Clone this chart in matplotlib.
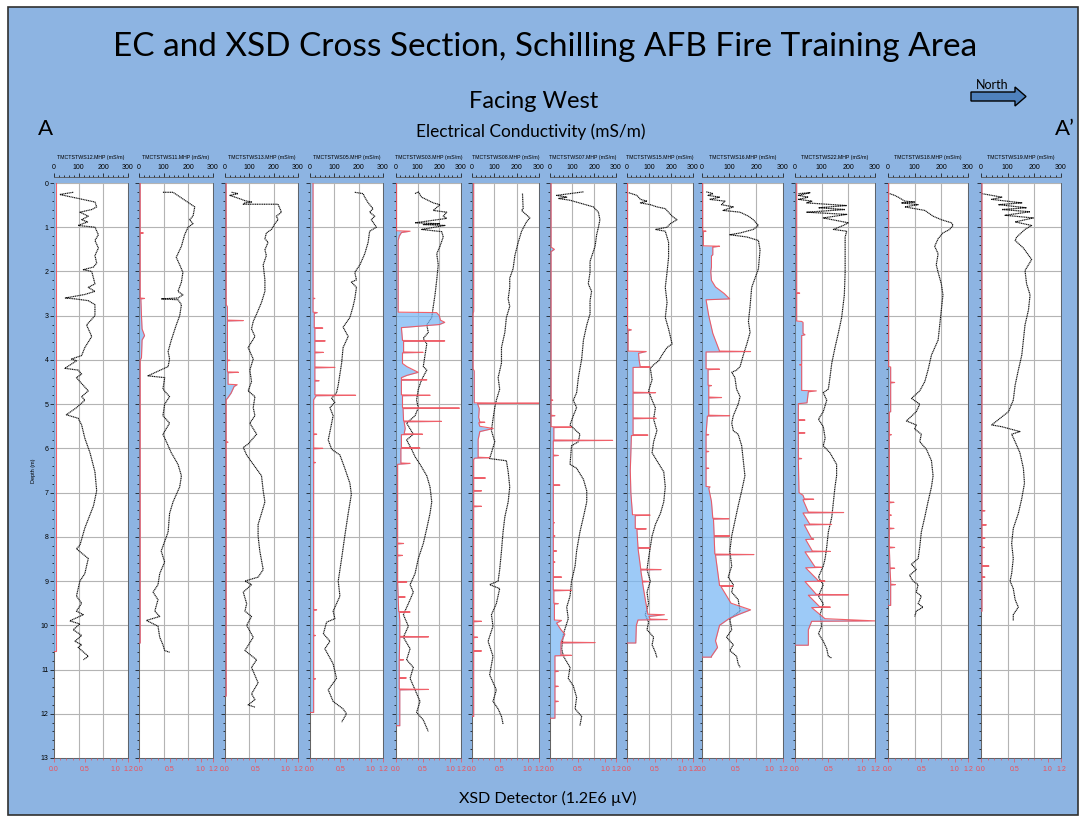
import matplotlib.pyplot as plt
from matplotlib.patches import Rectangle, Polygon
from matplotlib.ticker import MultipleLocator, FixedLocator

plt.rcParams['font.family'] = ['Liberation Sans', 'DejaVu Sans']

# ---------------- data ----------------
wells = ['TMCTSTWS12', 'TMCTSTWS11', 'TMCTSTWS13', 'TMCTSTWS05', 'TMCTSTWS03', 'TMCTSTWS08',
         'TMCTSTWS07', 'TMCTSTWS15', 'TMCTSTWS16', 'TMCTSTWS22', 'TMCTSTWS18', 'TMCTSTWS19']

# EC profiles: (depth m, conductivity mS/m)
ec_ws12 = [(0.21, 78), (0.26, 23), (0.43, 166), (0.54, 173), (0.6, 153), (0.66, 105), (0.75, 139), (0.83, 112),
           (0.88, 136), (0.96, 98), (1.0, 166), (1.17, 180), (1.3, 166), (1.47, 180), (1.64, 166), (1.81, 173),
           (1.9, 160), (1.96, 119), (2.0, 153), (2.28, 166), (2.36, 139), (2.45, 166), (2.52, 125), (2.6, 46),
           (2.62, 85), (2.66, 139), (2.75, 166), (3.0, 166), (3.21, 132), (3.47, 153), (3.72, 125), (3.9, 112),
           (3.98, 71), (4.02, 91), (4.19, 44), (4.23, 98), (4.32, 112), (4.4, 91), (4.49, 105), (4.7, 139),
           (4.83, 112), (4.91, 125), (5.08, 91), (5.24, 50), (5.32, 98), (5.47, 112), (5.77, 125), (6.1, 146),
           (6.53, 166), (6.96, 173), (7.3, 160), (7.8, 125), (8.19, 105), (8.27, 91), (8.49, 139), (8.83, 125),
           (9.0, 105), (9.34, 91), (9.5, 112), (9.68, 91), (9.76, 119), (9.9, 64), (9.97, 105), (10.1, 78),
           (10.23, 112), (10.36, 85), (10.44, 112), (10.5, 98), (10.7, 139), (10.78, 119)]
ec_ws11 = [(0.21, 97), (0.21, 138), (0.54, 226), (0.75, 219), (0.83, 205), (0.92, 219), (1.0, 199), (1.17, 185),
           (1.43, 172), (1.68, 151), (1.85, 165), (2.02, 178), (2.24, 172), (2.45, 158), (2.53, 178), (2.6, 158),
           (2.62, 90), (2.64, 158), (2.75, 172), (3.0, 165), (3.21, 151), (3.55, 131), (3.81, 118), (3.98, 124),
           (4.15, 118), (4.36, 36), (4.4, 104), (4.66, 97), (4.83, 124), (5.0, 104), (5.26, 97), (5.43, 124),
           (5.68, 97), (5.85, 111), (6.1, 131), (6.36, 158), (6.62, 172), (6.87, 165), (7.21, 138), (7.47, 124),
           (7.89, 118), (8.32, 90), (8.57, 104), (8.83, 84), (9.08, 77), (9.25, 57), (9.42, 77), (9.68, 64),
           (9.8, 84), (9.89, 30), (10.02, 77), (10.27, 84), (10.44, 97), (10.57, 104), (10.61, 124)]
ec_ws13 = [(0.21, 27), (0.24, 54), (0.28, 20), (0.37, 68), (0.4, 82), (0.43, 109), (0.45, 82), (0.48, 75),
           (0.48, 218), (0.66, 232), (0.75, 211), (0.83, 218), (0.92, 205), (1.05, 191), (1.13, 170), (1.26, 164),
           (1.34, 177), (1.51, 164), (1.64, 170), (1.85, 157), (2.19, 164), (2.45, 164), (2.7, 150), (2.96, 130),
           (3.13, 116), (3.3, 109), (3.47, 123), (3.72, 95), (3.98, 116), (4.23, 102), (4.49, 109), (4.7, 95),
           (4.83, 123), (5.08, 116), (5.26, 123), (5.43, 102), (5.68, 130), (5.9, 95), (5.98, 75), (6.15, 89),
           (6.36, 116), (6.62, 150), (6.96, 157), (7.21, 164), (7.47, 150), (7.72, 136), (7.98, 136), (8.32, 143),
           (8.74, 157), (8.91, 136), (9.0, 82), (9.08, 109), (9.25, 75), (9.51, 89), (9.68, 82), (9.8, 109),
           (10.0, 89), (10.27, 116), (10.57, 82), (10.78, 130), (10.95, 109), (11.3, 136), (11.55, 109),
           (11.68, 123), (11.8, 95), (11.85, 123)]
ec_ws05 = [(0.21, 184), (0.24, 218), (0.32, 225), (0.45, 239), (0.58, 259), (0.66, 245), (0.75, 266),
           (0.83, 252), (1.0, 273), (1.09, 245), (1.34, 239), (1.6, 225), (1.85, 205), (2.02, 184), (2.19, 191),
           (2.24, 170), (2.36, 191), (2.62, 184), (2.79, 177), (3.04, 164), (3.26, 136), (3.47, 157), (3.72, 136),
           (4.07, 130), (4.32, 123), (4.57, 116), (4.74, 109), (4.87, 89), (4.96, 102), (5.08, 82), (5.26, 95),
           (5.43, 89), (5.81, 75), (6.02, 89), (6.15, 123), (6.45, 143), (6.79, 164), (7.04, 170), (7.47, 157),
           (7.98, 143), (8.49, 130), (9.0, 116), (9.34, 123), (9.68, 95), (9.85, 102), (9.93, 68), (10.19, 55),
           (10.36, 82), (10.53, 61), (10.87, 95), (11.2, 109), (11.46, 75), (11.72, 95), (11.89, 136), (12.0, 150),
           (12.19, 130)]
ec_ws03 = [(0.24, 88), (0.2, 103), (0.32, 118), (0.45, 172), (0.49, 203), (0.62, 172), (0.66, 234), (0.75, 218),
           (0.8, 234), (0.9, 88), (0.92, 203), (0.94, 126), (0.96, 226), (1.05, 118), (1.1, 211), (1.22, 218),
           (1.43, 203), (1.6, 188), (1.85, 195), (2.19, 188), (2.53, 180), (2.79, 172), (3.04, 165), (3.21, 142),
           (3.38, 149), (3.51, 126), (3.64, 142), (3.89, 134), (4.15, 126), (4.23, 142), (4.45, 118), (4.66, 103),
           (4.91, 95), (5.08, 103), (5.26, 88), (5.43, 49), (5.68, 80), (5.81, 49), (6.02, 72), (6.19, 88),
           (6.36, 111), (6.62, 142), (6.87, 157), (7.21, 165), (7.47, 157), (7.81, 142), (8.15, 126), (8.49, 103),
           (8.83, 88), (9.08, 65), (9.25, 80), (9.51, 57), (9.76, 34), (10.02, 57), (10.27, 34), (10.53, 65),
           (10.78, 49), (10.95, 80), (11.2, 65), (11.46, 88), (11.72, 111), (11.97, 95), (12.14, 126), (12.4, 149)]
ec_ws08 = [(0.24, 226), (0.58, 229), (0.62, 222), (0.79, 259), (0.88, 244), (1.09, 222), (1.34, 207), (1.64, 192),
           (1.94, 184), (2.15, 169), (2.36, 169), (2.62, 162), (2.79, 169), (3.04, 154), (3.38, 147), (3.72, 132),
           (4.07, 132), (4.4, 117), (4.66, 124), (4.91, 109), (5.08, 102), (5.34, 94), (5.6, 87), (5.85, 102),
           (6.1, 87), (6.23, 79), (6.28, 154), (6.53, 162), (6.87, 169), (7.21, 162), (7.55, 147), (7.89, 139),
           (8.32, 132), (8.74, 124), (9.0, 117), (9.08, 79), (9.17, 124), (9.51, 109), (9.76, 87), (10.02, 94),
           (10.36, 72), (10.7, 94), (11.12, 79), (11.46, 109), (11.72, 94), (11.89, 117), (12.06, 132),
           (12.23, 139)]
ec_ws07 = [(0.2, 152), (0.28, 30), (0.32, 76), (0.35, 38), (0.39, 91), (0.54, 197), (0.66, 220), (0.83, 227),
           (1.0, 220), (1.17, 212), (1.43, 205), (1.77, 182), (2.02, 182), (2.28, 174), (2.45, 189), (2.66, 182),
           (2.96, 182), (3.21, 167), (3.55, 152), (3.98, 144), (4.4, 129), (4.74, 121), (4.91, 106), (5.08, 121),
           (5.26, 106), (5.47, 91), (5.68, 136), (5.85, 129), (5.94, 98), (6.36, 91), (6.45, 121), (6.7, 152),
           (6.96, 167), (7.21, 167), (7.55, 152), (7.89, 136), (8.32, 121), (8.66, 114), (9.0, 98), (9.34, 91),
           (9.59, 76), (9.85, 83), (10.19, 61), (10.53, 53), (10.7, 61), (10.95, 91), (11.2, 83), (11.37, 106),
           (11.63, 121), (11.89, 114), (12.06, 144), (12.27, 136)]
ec_ws15 = [(0.22, 8), (0.28, 45), (0.37, 61), (0.41, 91), (0.45, 61), (0.49, 106), (0.54, 136), (0.58, 174),
           (0.75, 205), (0.83, 227), (0.92, 197), (1.0, 182), (1.05, 129), (1.09, 174), (1.34, 189), (1.68, 189),
           (2.02, 182), (2.36, 174), (2.7, 182), (3.04, 174), (3.3, 189), (3.64, 205), (3.72, 182), (3.89, 159),
           (4.02, 144), (4.11, 121), (4.19, 106), (4.45, 114), (4.7, 98), (4.91, 114), (5.08, 129), (5.34, 121),
           (5.6, 136), (5.85, 121), (6.1, 114), (6.28, 136), (6.53, 167), (6.87, 174), (7.21, 167), (7.47, 152),
           (7.72, 129), (7.98, 114), (8.23, 106), (8.49, 98), (8.74, 91), (9.0, 106), (9.25, 91), (9.51, 98),
           (9.76, 83), (9.93, 98), (10.1, 91), (10.27, 121), (10.44, 114), (10.61, 129), (10.73, 136)]
ec_ws16 = [(0.2, 16), (0.24, 41), (0.28, 22), (0.32, 66), (0.37, 28), (0.41, 85), (0.49, 72), (0.54, 116),
           (0.62, 78), (0.66, 141), (0.75, 172), (0.83, 190), (0.96, 209), (1.05, 190), (1.13, 141), (1.17, 103),
           (1.22, 166), (1.3, 209), (1.51, 215), (1.94, 209), (2.36, 184), (2.79, 178), (3.13, 172), (3.38, 178),
           (3.64, 166), (3.89, 153), (4.15, 141), (4.23, 128), (4.28, 110), (4.4, 122), (4.66, 128), (4.83, 141),
           (5.0, 134), (5.26, 116), (5.43, 110), (5.6, 116), (5.68, 134), (5.94, 147), (6.28, 153), (6.62, 159),
           (6.96, 147), (7.3, 134), (7.64, 122), (7.98, 110), (8.32, 103), (8.66, 110), (8.91, 97), (9.08, 116),
           (9.25, 110), (9.42, 134), (9.68, 141), (9.85, 103), (10.1, 110), (10.27, 91), (10.44, 116),
           (10.57, 103), (10.7, 128), (10.87, 134), (10.95, 141)]
ec_ws22 = [(0.24, 13), (0.22, 56), (0.28, 13), (0.32, 50), (0.37, 13), (0.41, 63), (0.45, 44), (0.51, 194),
           (0.56, 88), (0.6, 188), (0.66, 44), (0.71, 194), (0.79, 106), (0.9, 200), (0.96, 181), (1.05, 144),
           (1.09, 194), (1.22, 188), (1.51, 188), (2.02, 188), (2.53, 185), (3.04, 175), (3.38, 163), (3.72, 150),
           (4.07, 138), (4.4, 131), (4.66, 125), (4.74, 106), (4.91, 119), (5.17, 106), (5.34, 88), (5.51, 106),
           (5.77, 113), (5.94, 106), (6.1, 131), (6.36, 156), (6.62, 156), (6.87, 150), (7.21, 144), (7.55, 138),
           (7.89, 125), (8.23, 119), (8.49, 113), (8.66, 106), (8.91, 88), (9.08, 106), (9.34, 88), (9.51, 106),
           (9.76, 94), (10.02, 100), (10.19, 88), (10.36, 106), (10.53, 119), (10.7, 125), (10.74, 138)]
ec_ws18 = [(0.24, 6), (0.28, 25), (0.32, 38), (0.41, 63), (0.43, 100), (0.45, 50), (0.49, 113), (0.54, 63),
           (0.62, 138), (0.75, 169), (0.83, 200), (0.9, 238), (0.96, 244), (1.05, 231), (1.13, 206), (1.26, 188),
           (1.43, 175), (1.6, 188), (1.85, 181), (2.02, 188), (2.28, 200), (2.53, 206), (2.87, 200), (3.21, 194),
           (3.55, 188), (3.89, 163), (4.23, 150), (4.49, 138), (4.7, 119), (4.87, 88), (5.0, 119), (5.17, 106),
           (5.38, 69), (5.47, 106), (5.56, 100), (5.68, 125), (5.85, 119), (6.02, 144), (6.28, 163), (6.62, 169),
           (6.87, 163), (7.21, 150), (7.55, 138), (7.89, 125), (8.23, 119), (8.49, 113), (8.62, 88), (8.74, 106),
           (8.87, 81), (9.0, 94), (9.08, 113), (9.25, 106), (9.34, 125), (9.51, 113), (9.59, 131), (9.68, 106),
           (9.8, 100)]
ec_ws19 = [(0.24, 3), (0.32, 78), (0.37, 40), (0.45, 153), (0.49, 65), (0.56, 171), (0.6, 78), (0.65, 184),
           (0.73, 90), (0.79, 196), (0.88, 128), (0.96, 190), (1.05, 165), (1.22, 134), (1.3, 128), (1.47, 159),
           (1.73, 190), (1.98, 165), (2.28, 171), (2.53, 184), (2.87, 178), (3.21, 165), (3.55, 159), (3.89, 153),
           (4.23, 140), (4.57, 128), (4.91, 121), (5.17, 103), (5.47, 40), (5.51, 78), (5.62, 146), (5.68, 115),
           (5.85, 128), (6.1, 146), (6.45, 159), (6.79, 163), (7.13, 153), (7.47, 140), (7.81, 121), (8.15, 115),
           (8.49, 121), (8.83, 115), (9.0, 109), (9.17, 121), (9.42, 128), (9.59, 140), (9.76, 121), (9.89, 121)]

# XSD profiles: (depth m, detector signal in 1.2E6 uV units)
xsd_ws12 = [(0, 0.03), (10.57, 0.03), (10.57, 0)]
xsd_ws11 = [(0, 0.02), (1.12, 0.02), (1.13, 0.07), (1.14, 0.02), (2.6, 0.02), (2.61, 0.09), (2.62, 0.03),
            (3.0, 0.04), (3.3, 0.05), (3.45, 0.09), (3.55, 0.05), (3.95, 0.04), (4.0, 0.02), (10.4, 0.02),
            (10.4, 0)]
xsd_ws13 = [(0, 0.02), (2.75, 0.02), (2.8, 0.04), (3.1, 0.04), (3.11, 0.3), (3.12, 0.04), (4.0, 0.04),
            (4.01, 0.08), (4.02, 0.04), (4.27, 0.04), (4.28, 0.22), (4.29, 0.05), (4.55, 0.05), (4.56, 0.2),
            (4.6, 0.15), (4.75, 0.1), (4.85, 0.05), (4.9, 0.02), (5.85, 0.02), (5.86, 0.05), (5.87, 0.02),
            (11.6, 0.02), (11.6, 0)]
xsd_ws05 = [(0, 0.05), (2.6, 0.05), (2.61, 0.08), (2.62, 0.05), (2.92, 0.05), (2.93, 0.12), (2.95, 0.07),
            (3.27, 0.07), (3.28, 0.21), (3.29, 0.08), (3.56, 0.08), (3.57, 0.25), (3.58, 0.08), (3.82, 0.08),
            (3.83, 0.22), (3.84, 0.08), (4.16, 0.08), (4.17, 0.41), (4.18, 0.08), (4.46, 0.08), (4.47, 0.15),
            (4.48, 0.08), (4.79, 0.08), (4.8, 0.75), (4.81, 0.1), (4.9, 0.06), (5.67, 0.06), (5.68, 0.11),
            (5.69, 0.06), (5.99, 0.06), (6.0, 0.21), (6.01, 0.06), (6.31, 0.06), (6.32, 0.09), (6.33, 0.06),
            (9.64, 0.06), (9.65, 0.11), (9.66, 0.06), (10.22, 0.06), (10.23, 0.09), (10.24, 0.06), (11.2, 0.06),
            (11.21, 0.09), (11.22, 0.06), (11.97, 0.06), (11.97, 0)]
xsd_ws03 = [(0, 0.01), (1.08, 0.01), (1.09, 0.26), (1.12, 0.1), (1.2, 0.06), (1.3, 0.04), (2.92, 0.04),
            (2.93, 0.75), (3.0, 0.8), (3.1, 0.82), (3.15, 0.9), (3.2, 0.8), (3.25, 0.3), (3.27, 0.1), (3.56, 0.12),
            (3.57, 0.9), (3.58, 0.14), (3.82, 0.14), (3.83, 0.5), (3.84, 0.12), (4.08, 0.12), (4.15, 0.2),
            (4.28, 0.41), (4.35, 0.2), (4.4, 0.1), (4.44, 0.1), (4.45, 0.57), (4.46, 0.1), (4.79, 0.1), (4.8, 0.63),
            (4.81, 0.12), (5.08, 0.12), (5.09, 1.17), (5.1, 0.13), (5.38, 0.14), (5.39, 0.84), (5.4, 0.15),
            (5.55, 0.17), (5.67, 0.15), (5.68, 0.49), (5.69, 0.1), (5.98, 0.1), (5.99, 0.44), (6.0, 0.09),
            (6.33, 0.09), (6.34, 0.26), (6.36, 0.03), (8.14, 0.03), (8.15, 0.14), (8.16, 0.03), (8.41, 0.03),
            (8.42, 0.12), (8.43, 0.03), (9.01, 0.03), (9.02, 0.2), (9.03, 0.03), (9.35, 0.04), (9.36, 0.17),
            (9.37, 0.04), (9.69, 0.05), (9.7, 0.26), (9.71, 0.06), (9.9, 0.07), (10.25, 0.07), (10.26, 0.6),
            (10.27, 0.07), (10.77, 0.06), (10.78, 0.14), (10.79, 0.06), (11.18, 0.06), (11.19, 0.19), (11.2, 0.06),
            (11.44, 0.06), (11.45, 0.6), (11.46, 0.07), (12.27, 0.07), (12.27, 0)]
xsd_ws08 = [(0, 0.03), (2.9, 0.03), (2.95, 0.02), (4.2, 0.02), (4.25, 0.04), (4.97, 0.04), (4.98, 1.2),
            (4.99, 0.1), (5.1, 0.13), (5.3, 0.12), (5.4, 0.14), (5.41, 0.23), (5.42, 0.12), (5.5, 0.14),
            (5.55, 0.38), (5.62, 0.14), (5.8, 0.11), (6.2, 0.11), (6.21, 0.31), (6.22, 0.05), (6.25, 0.03),
            (6.66, 0.03), (6.67, 0.24), (6.68, 0.03), (6.95, 0.03), (6.96, 0.17), (6.97, 0.03), (7.3, 0.03),
            (7.31, 0.17), (7.32, 0.03), (9.9, 0.03), (9.91, 0.17), (9.92, 0.03), (10.26, 0.03), (10.27, 0.1),
            (10.28, 0.03), (10.57, 0.03), (10.58, 0.17), (10.59, 0.03), (12.06, 0.03), (12.06, 0)]
xsd_ws07 = [(0, 0.02), (1.45, 0.02), (1.5, 0.08), (1.55, 0.02), (4.9, 0.02), (4.91, 0.05), (4.92, 0.02),
            (5.25, 0.02), (5.26, 0.09), (5.27, 0.02), (5.51, 0.02), (5.52, 0.39), (5.53, 0.07), (5.81, 0.07),
            (5.82, 1.14), (5.83, 0.06), (6.15, 0.06), (6.16, 0.15), (6.17, 0.06), (6.82, 0.06), (6.83, 0.18),
            (6.84, 0.06), (7.67, 0.06), (7.68, 0.08), (7.69, 0.06), (7.97, 0.06), (7.98, 0.09), (7.99, 0.06),
            (8.31, 0.06), (8.32, 0.12), (8.33, 0.06), (8.56, 0.06), (8.57, 0.09), (8.58, 0.06), (8.9, 0.06),
            (8.91, 0.21), (8.92, 0.06), (9.2, 0.06), (9.21, 0.39), (9.22, 0.07), (9.5, 0.07), (9.51, 0.15),
            (9.52, 0.08), (9.88, 0.08), (9.89, 0.21), (9.95, 0.12), (10.1, 0.2), (10.2, 0.27), (10.38, 0.2),
            (10.39, 0.82), (10.4, 0.2), (10.67, 0.2), (10.68, 0.39), (10.69, 0.09), (11.03, 0.09), (11.04, 0.15),
            (11.05, 0.09), (11.37, 0.09), (11.38, 0.15), (11.39, 0.09), (11.71, 0.09), (11.72, 0.15),
            (11.73, 0.09), (12.1, 0.09), (12.1, 0)]
xsd_ws15 = [(0, 0.01), (3.3, 0.01), (3.32, 0.08), (3.34, 0.02), (3.8, 0.02), (3.81, 0.35), (3.85, 0.21),
            (4.0, 0.22), (4.15, 0.24), (4.16, 0.42), (4.17, 0.11), (4.73, 0.11), (4.74, 0.52), (4.75, 0.11),
            (5.31, 0.11), (5.32, 0.53), (5.33, 0.11), (5.69, 0.11), (5.7, 0.38), (5.71, 0.08), (6.5, 0.06),
            (7.0, 0.07), (7.5, 0.1), (7.51, 0.42), (7.52, 0.15), (7.81, 0.15), (7.82, 0.35), (7.83, 0.18),
            (8.24, 0.2), (8.25, 0.42), (8.26, 0.2), (8.73, 0.25), (8.74, 0.62), (8.75, 0.25), (9.0, 0.28),
            (9.01, 0.4), (9.02, 0.28), (9.4, 0.33), (9.75, 0.38), (9.76, 0.68), (9.8, 0.4), (9.86, 0.42),
            (9.87, 0.73), (9.88, 0.2), (10.0, 0.17), (10.4, 0.16), (10.4, 0)]
xsd_ws16 = [(0, 0.01), (1.08, 0.01), (1.09, 0.06), (1.1, 0.02), (1.42, 0.02), (1.43, 0.26), (1.45, 0.16),
            (1.62, 0.16), (1.65, 0.14), (1.9, 0.14), (2.0, 0.13), (2.2, 0.14), (2.35, 0.2), (2.5, 0.33),
            (2.62, 0.41), (2.64, 0.06), (3.0, 0.1), (3.4, 0.16), (3.8, 0.26), (3.81, 0.72), (3.82, 0.06),
            (4.2, 0.06), (4.21, 0.26), (4.22, 0.09), (4.57, 0.09), (4.58, 0.14), (4.59, 0.1), (4.84, 0.1),
            (4.85, 0.29), (4.86, 0.1), (5.25, 0.1), (5.26, 0.41), (5.27, 0.08), (5.68, 0.06), (5.69, 0.1),
            (5.7, 0.06), (6.06, 0.06), (6.07, 0.1), (6.08, 0.06), (6.44, 0.06), (6.45, 0.1), (6.46, 0.06),
            (6.86, 0.06), (6.87, 0.12), (6.9, 0.1), (7.2, 0.14), (7.58, 0.16), (7.59, 0.4), (7.6, 0.17),
            (7.97, 0.18), (7.98, 0.41), (7.99, 0.18), (8.39, 0.19), (8.4, 0.77), (8.41, 0.2), (9.1, 0.26),
            (9.11, 0.46), (9.12, 0.28), (9.5, 0.43), (9.65, 0.72), (9.75, 0.55), (9.85, 0.4), (10.0, 0.26),
            (10.35, 0.2), (10.5, 0.23), (10.7, 0.14), (10.72, 0.14), (10.72, 0)]
xsd_ws22 = [(0, 0.025), (2.48, 0.025), (2.49, 0.07), (2.5, 0.025), (3.12, 0.025), (3.13, 0.1), (3.15, 0.12),
            (3.4, 0.12), (3.43, 0.15), (3.45, 0.1), (4.1, 0.1), (4.11, 0.07), (4.12, 0.1), (4.69, 0.1),
            (4.7, 0.32), (4.72, 0.2), (4.97, 0.18), (4.99, 0.05), (5.35, 0.05), (5.36, 0.15), (5.37, 0.05),
            (5.64, 0.05), (5.65, 0.15), (5.66, 0.05), (6.22, 0.05), (6.23, 0.1), (6.24, 0.05), (7.0, 0.06),
            (7.06, 0.12), (7.14, 0.14), (7.15, 0.28), (7.16, 0.12), (7.44, 0.2), (7.45, 0.73), (7.46, 0.12),
            (7.71, 0.22), (7.72, 0.55), (7.73, 0.14), (8.04, 0.25), (8.05, 0.28), (8.06, 0.16), (8.32, 0.26),
            (8.33, 0.53), (8.34, 0.15), (8.68, 0.3), (8.69, 0.4), (8.7, 0.16), (8.99, 0.35), (9.0, 0.45),
            (9.01, 0.15), (9.3, 0.32), (9.31, 0.8), (9.32, 0.2), (9.58, 0.37), (9.59, 0.53), (9.6, 0.25),
            (9.85, 0.45), (9.9, 1.2), (9.91, 0.25), (10.1, 0.2), (10.15, 0.2), (10.45, 0.2), (10.45, 0)]
xsd_ws18 = [(0, 0.01), (4.15, 0.01), (4.16, 0.04), (4.5, 0.04), (4.51, 0.1), (4.52, 0.04), (5.17, 0.04),
            (5.18, 0.02), (5.68, 0.02), (5.69, 0.05), (5.7, 0.02), (7.21, 0.02), (7.22, 0.09), (7.23, 0.02),
            (7.5, 0.02), (7.51, 0.05), (7.52, 0.02), (7.8, 0.02), (7.81, 0.09), (7.82, 0.02), (8.23, 0.02),
            (8.24, 0.1), (8.25, 0.02), (8.7, 0.03), (8.71, 0.1), (8.72, 0.03), (9.0, 0.04), (9.07, 0.04),
            (9.08, 0.11), (9.09, 0.04), (9.55, 0.04), (9.55, 0)]
xsd_ws19 = [(0, 0.015), (7.4, 0.015), (7.41, 0.06), (7.42, 0.015), (7.72, 0.015), (7.73, 0.08), (7.74, 0.015),
            (8.02, 0.015), (8.03, 0.06), (8.04, 0.015), (8.23, 0.015), (8.24, 0.05), (8.25, 0.015), (8.65, 0.015),
            (8.66, 0.12), (8.67, 0.015), (8.9, 0.015), (8.91, 0.06), (8.92, 0.015), (9.68, 0.015), (9.68, 0)]

ec_all = [ec_ws12, ec_ws11, ec_ws13, ec_ws05, ec_ws03, ec_ws08, ec_ws07, ec_ws15, ec_ws16, ec_ws22, ec_ws18, ec_ws19]
xsd_all = [xsd_ws12, xsd_ws11, xsd_ws13, xsd_ws05, xsd_ws03, xsd_ws08, xsd_ws07, xsd_ws15, xsd_ws16, xsd_ws22,
           xsd_ws18, xsd_ws19]

# ---------------- layout (pixels) ----------------
W, H = 1085, 817
BG = '#8db4e2'
panel_left = [54, 139, 225, 310, 396, 472, 550, 627, 702, 795, 888, 981]
panel_right = [128, 213, 298, 383, 461, 539, 616, 693, 783, 875, 968, 1061]
top_px, bot_px = 183, 758

fig = plt.figure(figsize=(W / 100, H / 100), dpi=100, facecolor='white')

# slide background
bg = fig.add_axes([0, 0, 1, 1])
bg.set_xlim(0, W)
bg.set_ylim(H, 0)
bg.axis('off')
bg.add_patch(Rectangle((8, 7), 1070, 808, facecolor=BG, edgecolor='#303030', lw=1.2))
bg.add_patch(Polygon([(971, 92), (1015, 92), (1015, 87), (1026, 96.5), (1015, 106), (1015, 101), (971, 101)],
                     closed=True, facecolor='#4f81bd', edgecolor='black', lw=1))

bg.text(545, 47, 'EC and XSD Cross Section, Schilling AFB Fire Training Area', fontsize=24,
        family='Lato', ha='center', va='center')
bg.text(534, 101, 'Facing West', fontsize=17, family='Lato', ha='center', va='center')
bg.text(531, 132, 'Electrical Conductivity (mS/m)', fontsize=12.4, family='Lato', ha='center', va='center')
bg.text(548, 798, 'XSD Detector (1.2E6 \u00b5V)', fontsize=11.5, family='Lato', ha='center', va='center')
bg.text(45, 129, 'A', fontsize=16, family='Lato', ha='center', va='center')
bg.text(1065, 129, 'A\u2019', fontsize=16, family='Lato', ha='center', va='center')
bg.text(992, 85, 'North', fontsize=9, family='Lato', ha='center', va='center')

red = '#f0505a'
for i, name in enumerate(wells):
    l, r = panel_left[i], panel_right[i]
    ax = fig.add_axes([l / W, 1 - bot_px / H, (r - l) / W, (bot_px - top_px) / H])
    ax2 = ax.twiny()
    ax.set_facecolor('white')
    ax.set_xlim(0, 300)
    ax.set_ylim(13, 0)

    ec_d = [p[0] for p in ec_all[i]]
    ec_v = [p[1] for p in ec_all[i]]
    ax.plot(ec_v, ec_d, color='#111111', ls=(0, (1, 0.5)), lw=0.85, zorder=3)

    ax.xaxis.set_ticks_position('top')
    ax.xaxis.set_label_position('top')
    ax.set_xticks([0, 100, 200, 300])
    ax.xaxis.set_minor_locator(MultipleLocator(20))
    ax.yaxis.set_major_locator(MultipleLocator(1))
    ax.yaxis.set_minor_locator(MultipleLocator(0.2))
    ax.grid(True, which='major', color='#b4b4b4', lw=0.8)
    ax.tick_params(axis='x', which='major', top=True, bottom=False, labeltop=True, labelbottom=False,
                   labelsize=5, length=3, width=0.5, pad=1.5)
    ax.tick_params(axis='x', which='minor', top=True, bottom=False, length=1.5, width=0.5)
    ax.tick_params(axis='y', which='major', labelsize=5, length=3, width=0.5, pad=1)
    ax.tick_params(axis='y', which='minor', length=1.5, width=0.5)
    ax.spines['top'].set_position(('outward', 4))
    for s in ax.spines.values():
        s.set_color('#555555')
        s.set_linewidth(0.6)
    if i == 0:
        ax.set_ylabel('Depth (m)', fontsize=4, labelpad=3)
    else:
        ax.tick_params(axis='y', labelleft=False)

    ax2.set_xlim(0, 1.2)
    ax2.set_ylim(13, 0)
    ax2.xaxis.set_ticks_position('bottom')
    ax2.xaxis.set_label_position('bottom')
    ax2.xaxis.set_major_locator(FixedLocator([0, 0.5, 1.0, 1.2]))
    ax2.xaxis.set_minor_locator(MultipleLocator(0.1))
    ax2.xaxis.set_major_formatter('{x:.1f}')
    ax2.tick_params(axis='x', which='major', top=False, bottom=True, labeltop=False, labelbottom=True,
                    labelsize=5, colors=red, length=3, width=0.5, pad=3)
    ax2.tick_params(axis='x', which='minor', top=False, bottom=True, colors=red, length=1.5, width=0.5)
    for s in ax2.spines.values():
        s.set_visible(False)

    x_d = [p[0] for p in xsd_all[i]]
    x_v = [p[1] for p in xsd_all[i]]
    ax2.fill_betweenx(x_d, 0, x_v, color='#78b6f4', alpha=0.72, lw=0, zorder=4)
    ax2.plot(x_v, x_d, color=red, lw=0.8, alpha=0.9, zorder=5)

    fig.text((l + r) / 2 / W, 1 - 158 / H, name + '.MHP (mS/m)', fontsize=3.8,
             family='Liberation Sans', ha='center', va='center')

fig.savefig('out.png', dpi=100, facecolor=fig.get_facecolor())
